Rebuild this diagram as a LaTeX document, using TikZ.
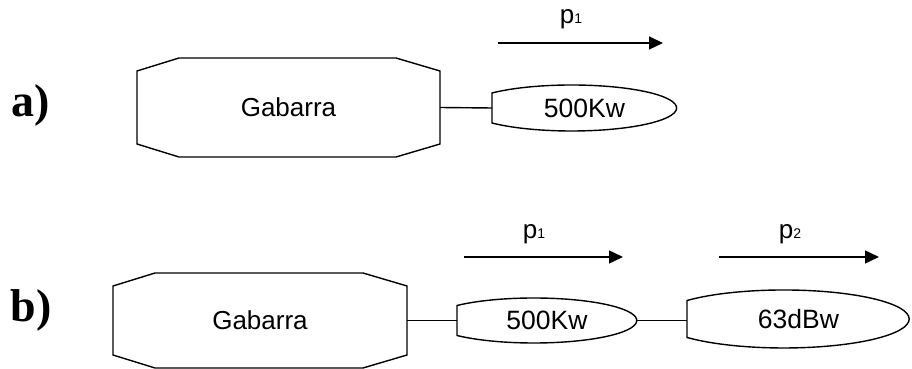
\documentclass[tikz,border=0pt]{standalone}
\usepackage{fontspec}
\setmainfont{Liberation Sans}
\newfontfamily\tagfont{Liberation Serif}
\usetikzlibrary{arrows.meta}

\begin{document}
\begin{tikzpicture}[
  x=1pt, y=1pt,
  barge/.style={
    rectangle,
    draw=none,
    outer sep=0pt,
    inner sep=0pt,
    font=\fontsize{26}{30}\selectfont
  },
  power/.style={
    rectangle,
    draw=none,
    outer sep=0pt,
    inner sep=0pt,
    font=\fontsize{26.5}{30}\selectfont
  },
  outline/.style={line width=1.4pt},
  flow/.style={line width=1.4pt, -{Triangle[length=14pt,width=13pt]}},
  plabel/.style={font=\fontsize{26}{30}\selectfont},
  tag/.style={font=\tagfont\bfseries\fontsize{46}{50}\selectfont}
]
\useasboundingbox (0,0) rectangle (912,369);

% case labels
\node[tag] (tagA) at (31,264) {a)};
\node[tag] (tagB) at (31,59) {b)};

% barges
\node[barge, minimum width=303pt, minimum height=99pt] (bargeA) at (288.5,261.5) {Gabarra};
\node[barge, minimum width=294pt, minimum height=95pt] (bargeB) at (260,48.5) {Gabarra};
\foreach \b in {bargeA,bargeB}
  \draw[outline] ([xshift=42pt]\b.north west) -- ([xshift=-44pt]\b.north east)
    -- ([yshift=-13pt]\b.north east) -- ([yshift=13pt]\b.south east)
    -- ([xshift=-44pt]\b.south east) -- ([xshift=42pt]\b.south west)
    -- ([yshift=13pt]\b.south west) -- ([yshift=-13pt]\b.north west) -- cycle;

% power units
\node[power, minimum width=185pt, minimum height=46pt] (pwrA) at (584.5,261) {500Kw};
\draw[outline] ([yshift=15pt]pwrA.west) arc[start angle=139.3, end angle=-139.3, x radius=105pt, y radius=23pt] -- cycle;

\node[power, minimum width=180pt, minimum height=45pt] (pwrB) at (547,48.5) {500Kw};
\draw[outline] ([yshift=15pt]pwrB.west) arc[start angle=138.2, end angle=-138.2, x radius=103pt, y radius=22.5pt] -- cycle;

\node[power, minimum width=223pt, minimum height=58pt] (pwrC) at (798.5,50) {63dBw};
\draw[outline] ([yshift=18.5pt]pwrC.west) arc[start angle=140.4, end angle=-140.4, x radius=125.5pt, y radius=29pt] -- cycle;

% links
\draw[outline] (bargeA.east) -- (pwrA.west);
\draw[outline] (bargeB.east) -- (pwrB.west);
\draw[outline] (pwrB.east) -- (pwrB.east -| pwrC.west);

% power flow arrows
\coordinate (flowA0) at (498,326);
\coordinate (flowA1) at (663,326);
\draw[flow] (flowA0) -- (flowA1);
\node[plabel] (pA) at (571,349.5) {p{\fontsize{14}{14}\selectfont 1}};

\coordinate (flowB0) at (464,112);
\coordinate (flowB1) at (623,112);
\draw[flow] (flowB0) -- (flowB1);
\node[plabel] (pB) at (534,135) {p{\fontsize{14}{14}\selectfont 1}};

\coordinate (flowC0) at (719,112);
\coordinate (flowC1) at (879,112);
\draw[flow] (flowC0) -- (flowC1);
\node[plabel] (pC) at (790,135) {p{\fontsize{14}{14}\selectfont 2}};
\end{tikzpicture}
\end{document}
